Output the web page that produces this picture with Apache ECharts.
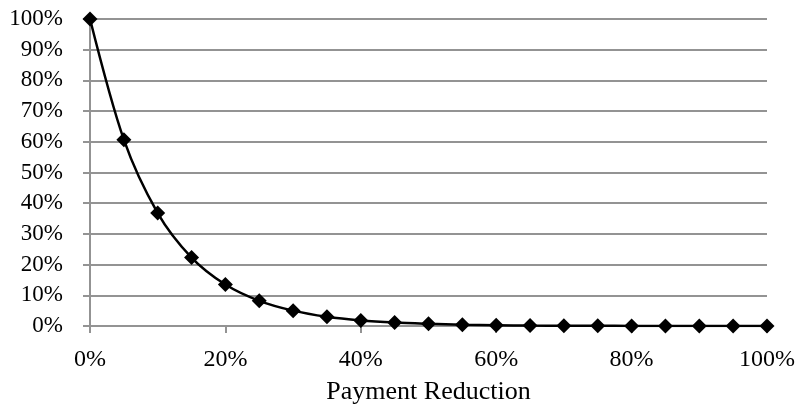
<!DOCTYPE html>
<html>
<head>
<meta charset="utf-8">
<script src="https://cdn.jsdelivr.net/npm/echarts@6/dist/echarts.min.js"></script>
<style>
  html, body { margin: 0; padding: 0; background: #fff; }
  #chart { width: 798px; height: 407px; }
</style>
</head>
<body>
<div id="chart"></div>
<script>
// Payment reduction (%) and the share remaining (%)
const reduction = [0, 5, 10, 15, 20, 25, 30, 35, 40, 45, 50, 55, 60, 65, 70, 75, 80, 85, 90, 95, 100];
const remaining = [100, 60.7, 36.8, 22.3, 13.5, 8.2, 5.0, 3.0, 1.8, 1.1, 0.7, 0.4, 0.25, 0.15, 0.09, 0.06, 0.03, 0.02, 0.01, 0.007, 0.005];

const font = 'Liberation Serif, Times New Roman, serif';
const gridGray = '#939393';

const chart = echarts.init(document.getElementById('chart'), null, { renderer: 'canvas' });
chart.setOption({
  animation: false,
  grid: { left: 90, right: 31, top: 19, bottom: 81, containLabel: false, outerBoundsMode: 'none' },
  xAxis: {
    type: 'value', min: 0, max: 100, interval: 20,
    name: 'Payment Reduction', nameLocation: 'middle', nameGap: 53,
    nameTextStyle: { fontFamily: font, fontSize: 26, color: '#000' },
    axisLine: { show: true, lineStyle: { color: gridGray, width: 2 } },
    axisTick: { show: true, length: 7, lineStyle: { color: gridGray, width: 2 } },
    splitLine: { show: false },
    axisLabel: { formatter: '{value}%', fontFamily: font, fontSize: 24, color: '#000', margin: 22 }
  },
  yAxis: {
    type: 'value', min: 0, max: 100, interval: 10,
    axisLine: { show: true, lineStyle: { color: gridGray, width: 2 } },
    axisTick: { show: true, length: 7, lineStyle: { color: gridGray, width: 2 } },
    splitLine: { show: true, lineStyle: { color: gridGray, width: 2 } },
    axisLabel: { formatter: '{value}%', fontFamily: font, fontSize: 23, color: '#000', margin: 27, padding: [5, 0, 0, 0] }
  },
  series: [{
    type: 'line',
    smooth: 0.3,
    data: reduction.map((x, i) => [x, remaining[i]]),
    symbol: 'diamond', symbolSize: 15,
    itemStyle: { color: '#000' },
    lineStyle: { color: '#000', width: 2.5 }
  }]
});
</script>
</body>
</html>
